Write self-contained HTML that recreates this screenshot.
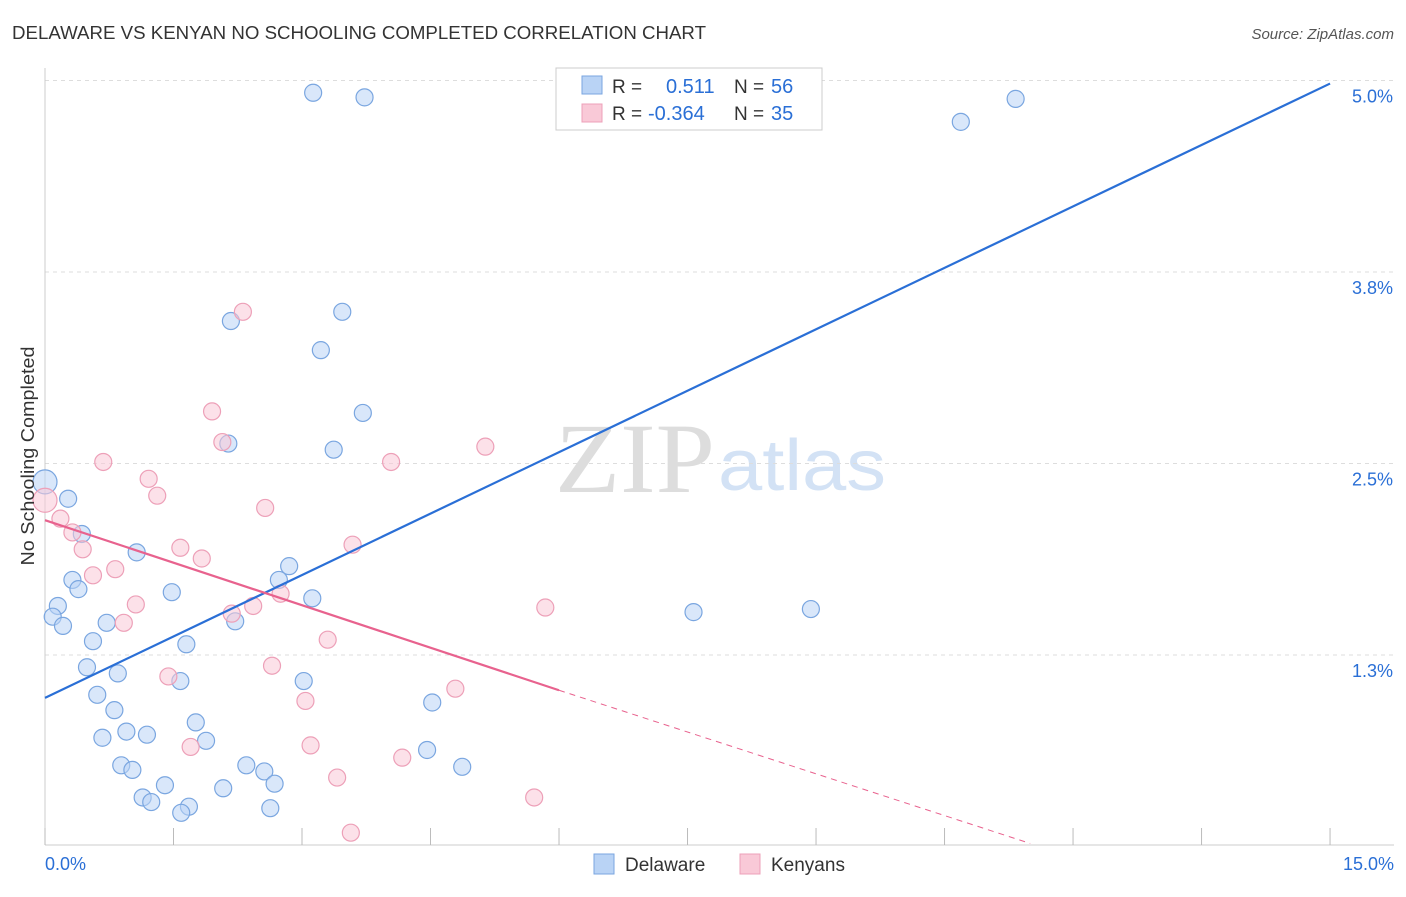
<!DOCTYPE html>
<html><head><meta charset="utf-8"><style>
body{margin:0;background:#fff;font-family:"Liberation Sans",sans-serif}
</style></head><body>
<svg id="chart" width="1406" height="892" xmlns="http://www.w3.org/2000/svg">
<text x="12" y="39" font-size="18" fill="#333" textLength="694" lengthAdjust="spacingAndGlyphs">DELAWARE VS KENYAN NO SCHOOLING COMPLETED CORRELATION CHART</text>
<text x="1394" y="39" font-size="15" fill="#555" font-style="italic" text-anchor="end">Source: ZipAtlas.com</text>
<text x="555" y="492" font-size="100" fill="#ddd" font-family="Liberation Serif" textLength="160" lengthAdjust="spacingAndGlyphs">ZIP</text>
<text x="718" y="490" font-size="72" fill="#d3e2f5" textLength="168" lengthAdjust="spacingAndGlyphs">atlas</text>
<g id="grid"></g><g id="axes"></g><g id="marks"></g>
<text x="34" y="456" font-size="18" fill="#333" transform="rotate(-90 34 456)" text-anchor="middle" textLength="219" lengthAdjust="spacingAndGlyphs">No Schooling Completed</text>
<g>
<rect x="556" y="68" width="266" height="62" fill="#fff" stroke="#ccc"/>
<rect x="582" y="76" width="20" height="18" fill="#b9d3f5" stroke="#7aa6e0"/>
<text x="612" y="93" font-size="19" fill="#333">R = </text><text x="666" y="93" font-size="20" fill="#2a6fd6">0.511</text>
<text x="734" y="93" font-size="19" fill="#333">N = </text><text x="771" y="93" font-size="20" fill="#2a6fd6">56</text>
<rect x="582" y="104" width="20" height="18" fill="#f9c9d7" stroke="#eda0b8"/>
<text x="612" y="120" font-size="19" fill="#333">R = </text><text x="648" y="120" font-size="20" fill="#2a6fd6">-0.364</text>
<text x="734" y="120" font-size="19" fill="#333">N = </text><text x="771" y="120" font-size="20" fill="#2a6fd6">35</text>
</g>
<g><rect x="594" y="854" width="20" height="20" fill="#b9d3f5" stroke="#7aa6e0"/><text x="625" y="871" font-size="19" fill="#333">Delaware</text></g>
<g><rect x="740" y="854" width="20" height="20" fill="#f9c9d7" stroke="#eda0b8"/><text x="771" y="871" font-size="19" fill="#333">Kenyans</text></g>
</svg>
<script>
const xTicks=[0,1.5,3,4.5,6,7.5,9,10.5,12,13.5,15];
const yTicks=[1.25,2.5,3.75,5.0];
const yTickLabels=["1.3%","2.5%","3.8%","5.0%"];
const delawareX=[3.13,3.73,10.69,11.33,2.17,3.47,3.22,3.71,2.14,3.37,0.0,0.27,0.43,1.07,2.85,2.73,0.32,0.39,1.48,3.12,0.15,0.09,0.21,0.72,2.22,7.57,8.94,0.56,1.65,0.49,0.85,1.58,3.02,0.61,4.52,0.81,1.76,0.95,0.67,1.19,1.88,4.46,0.89,1.02,2.35,2.56,4.87,1.40,2.08,2.68,1.14,1.24,1.68,1.59,2.63];
const delawareY=[4.92,4.89,4.73,4.88,3.43,3.49,3.24,2.83,2.63,2.59,2.38,2.27,2.04,1.92,1.83,1.74,1.74,1.68,1.66,1.62,1.57,1.50,1.44,1.46,1.47,1.53,1.55,1.34,1.32,1.17,1.13,1.08,1.08,0.99,0.94,0.89,0.81,0.75,0.71,0.73,0.69,0.63,0.53,0.50,0.53,0.49,0.52,0.40,0.38,0.41,0.32,0.29,0.26,0.22,0.25];
const kenyanX=[2.31,1.95,2.07,5.14,0.68,4.04,1.21,1.31,2.57,0.0,0.18,0.32,0.44,1.58,3.59,1.83,0.82,0.56,2.75,1.06,2.43,2.18,5.84,0.92,3.30,2.65,1.44,4.79,3.04,1.70,3.10,4.17,3.41,5.71,3.57];
const kenyanY=[3.49,2.84,2.64,2.61,2.51,2.51,2.40,2.29,2.21,2.26,2.14,2.05,1.94,1.95,1.97,1.88,1.81,1.77,1.65,1.58,1.57,1.52,1.56,1.46,1.35,1.18,1.11,1.03,0.95,0.65,0.66,0.58,0.45,0.32,0.09];
const blueLine=[[0,0.97],[15,4.98]];
const pinkLine=[[0,2.13],[6,1.02]];
const pinkDash=[[6,1.02],[11.5,0.02]];
const NS="http://www.w3.org/2000/svg";
const X=v=>45+v*85.67, Y=v=>846.5-v*153.2;
function mk(t,a,p){const e=document.createElementNS(NS,t);for(const k in a)e.setAttribute(k,a[k]);document.getElementById(p).appendChild(e);return e;}
yTicks.forEach((t,i)=>{
 const g=mk('line',{x1:45,x2:1394,y1:Y(t),y2:Y(t),stroke:'#ddd','stroke-dasharray':'4,4'},'grid');
 
 
 const l=mk('text',{x:1393,y:Y(t)+22,'font-size':18,fill:'#2a6fd6','text-anchor':'end'},'axes');l.textContent=yTickLabels[i];
 
 
});
const ga=mk('line',{x1:45,x2:45,y1:68,y2:845,stroke:'#ccc'},'axes');


const gb=mk('line',{x1:45,x2:1394,y1:845,y2:845,stroke:'#ccc'},'axes');


xTicks.forEach(t=>{const k=mk('line',{x1:X(t),x2:X(t),y1:828,y2:845,stroke:'#bbb'},'axes');
 
 });
[[0,'0.0%','start',45],[15,'15.0%','end',1394]].forEach(d=>{const l=mk('text',{x:d[3],y:870,'font-size':18,fill:'#2a6fd6','text-anchor':d[2]},'axes');l.textContent=d[1];
 
 });
function pts(xs,ys,fill,stroke,name){xs.forEach((x,i)=>{const r=(x===0)?12:8.5;
 const c=mk('circle',{cx:X(x),cy:Y(ys[i]),r:r,fill:fill,stroke:stroke,'stroke-width':1.2},'marks');
 
 });}
pts(delawareX,delawareY,'rgba(185,211,245,0.55)','#7aa6e0','delaware-point');
pts(kenyanX,kenyanY,'rgba(249,201,215,0.55)','#eda0b8','kenyan-point');
const b=mk('line',{x1:X(blueLine[0][0]),y1:Y(blueLine[0][1]),x2:X(blueLine[1][0]),y2:Y(blueLine[1][1]),stroke:'#2a6fd6','stroke-width':2.2},'marks');


const p=mk('line',{x1:X(pinkLine[0][0]),y1:Y(pinkLine[0][1]),x2:X(pinkLine[1][0]),y2:Y(pinkLine[1][1]),stroke:'#e8628e','stroke-width':2.2},'marks');


const pd=mk('line',{x1:X(pinkDash[0][0]),y1:Y(pinkDash[0][1]),x2:X(pinkDash[1][0]),y2:Y(pinkDash[1][1]),stroke:'#e8628e','stroke-width':1,'stroke-dasharray':'6,5'},'marks');


</script>
</body></html>
